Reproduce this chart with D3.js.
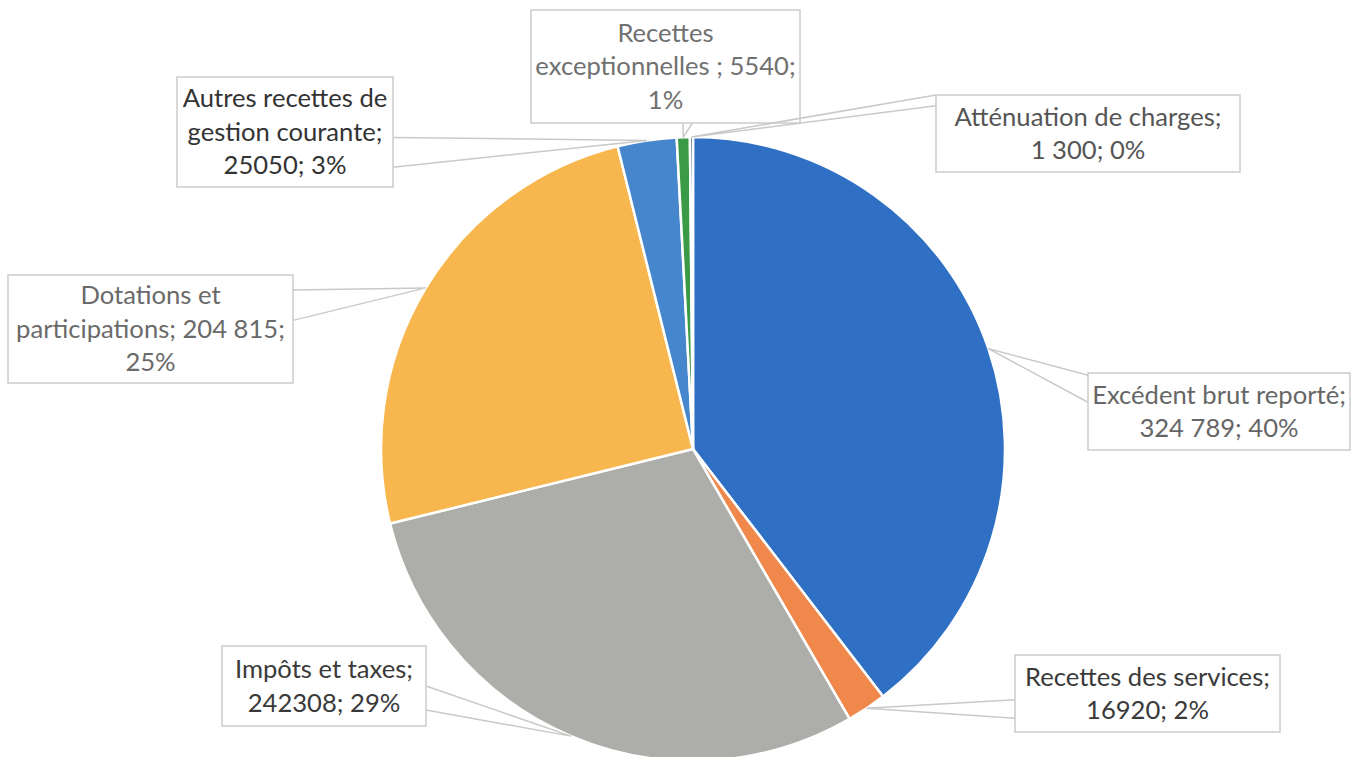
<!DOCTYPE html>
<html>
<head>
<meta charset="utf-8">
<script src="https://cdn.jsdelivr.net/npm/d3@7"></script>
<style>
  html, body { margin: 0; padding: 0; background: #ffffff; }
  svg { display: block; }
</style>
</head>
<body>
<svg id="chart" width="1357" height="757"></svg>
<script>
// ---------- data ----------
const categories = [
  "Excédent brut reporté",
  "Recettes des services",
  "Impôts et taxes",
  "Dotations et participations",
  "Autres recettes de gestion courante",
  "Recettes exceptionnelles",
  "Atténuation de charges"
];
const values = [324789, 16920, 242308, 204815, 25050, 5540, 1300];
const labelLines = [
  ["Excédent brut reporté;", "324 789; 40%"],
  ["Recettes des services;", "16920; 2%"],
  ["Impôts et taxes;", "242308; 29%"],
  ["Dotations et", "participations; 204 815;", "25%"],
  ["Autres recettes de", "gestion courante;", "25050; 3%"],
  ["Recettes", "exceptionnelles ; 5540;", "1%"],
  ["Atténuation de charges;", "1 300; 0%"]
];
const colors = ["#2F6FC4", "#F0884C", "#ADADAA", "#F8B74E", "#4586CD", "#3A9A45", "#23447A"];

// ---------- layout ----------
const W = 1357, H = 757;
const cx = 693, cy = 449, R = 312;
// label boxes [x0, y0, x1, y1], pointer side and fractions along that side
const boxes = [
  [1088, 373, 1350, 450],
  [1015, 655, 1280, 732],
  [222, 646, 426, 726],
  [8, 275, 293, 383],
  [177, 77, 393, 187],
  [531, 10, 800, 123],
  [936, 95, 1240, 172]
];
const pointerSide = ["left", "left", "right", "right", "right", "bottom", "left"];
const pointerFrac = [[0.03, 0.38], [0.58, 0.82], [0.5, 0.8], [0.14, 0.42], [0.55, 0.82], [0.565, 0.6], [0.0, 0.14]];
const textColors = ["#666666", "#3a3a3a", "#3a3a3a", "#6a6a6a", "#333333", "#707070", "#555555"];
const lineH = 33.5;

const svg = d3.select("#chart");
svg.append("rect").attr("width", W).attr("height", H).attr("fill", "#ffffff");

const data = categories.map((c, i) => ({ cat: c, value: values[i], i }));
const pie = d3.pie().sort(null).value(d => d.value).startAngle(0).endAngle(2 * Math.PI);
const arcs = pie(data);
const arc = d3.arc().innerRadius(0).outerRadius(R);

const g = svg.append("g").attr("transform", `translate(${cx},${cy})`);
g.selectAll("path.slice")
  .data(arcs)
  .join("path")
  .attr("class", "slice")
  .attr("d", arc)
  .attr("fill", d => colors[d.data.i])
  .attr("stroke", "#ffffff")
  .attr("stroke-width", 2.5)
  .attr("stroke-linejoin", "round");

// font calibration: match Calibri-like width
const probe = svg.append("text").attr("font-family", "Lato, 'Open Sans', sans-serif").attr("font-size", 100).text("Recettes des services;");
const probeW = probe.node().getComputedTextLength();
probe.remove();
const fontSize = Math.min(30, 245 / probeW * 100);

// ---------- callouts ----------
const lab = svg.append("g");
arcs.forEach((a, i) => {
  const mid = (a.startAngle + a.endAngle) / 2;
  const ax = cx + R * Math.sin(mid);
  const ay = cy - R * Math.cos(mid);
  const [x0, y0, x1, y1] = boxes[i];
  const [f1, f2] = pointerFrac[i];
  let p1, p2;
  if (pointerSide[i] === "left") { p1 = [x0, y0 + f1 * (y1 - y0)]; p2 = [x0, y0 + f2 * (y1 - y0)]; }
  else if (pointerSide[i] === "right") { p1 = [x1, y0 + f1 * (y1 - y0)]; p2 = [x1, y0 + f2 * (y1 - y0)]; }
  else if (pointerSide[i] === "bottom") { p1 = [x0 + f1 * (x1 - x0), y1]; p2 = [x0 + f2 * (x1 - x0), y1]; }
  else { p1 = [x0 + f1 * (x1 - x0), y0]; p2 = [x0 + f2 * (x1 - x0), y0]; }

  const cg = lab.append("g");
  cg.append("path")
    .attr("d", `M${p1[0]},${p1[1]}L${ax},${ay}L${p2[0]},${p2[1]}`)
    .attr("fill", "none")
    .attr("stroke", "#c9c9c9")
    .attr("stroke-width", 1.5);
  cg.append("rect")
    .attr("x", x0).attr("y", y0)
    .attr("width", x1 - x0).attr("height", y1 - y0)
    .attr("fill", "#ffffff")
    .attr("stroke", "#cccccc")
    .attr("stroke-width", 1.5);
  const lines = labelLines[i];
  const mx = (x0 + x1) / 2, my = (y0 + y1) / 2;
  lines.forEach((t, k) => {
    cg.append("text")
      .attr("x", mx)
      .attr("y", my + (k - (lines.length - 1) / 2) * lineH)
      .attr("dy", "0.35em")
      .attr("text-anchor", "middle")
      .attr("font-family", "Lato, 'Open Sans', sans-serif")
      .attr("font-size", fontSize)
      .attr("fill", textColors[i])
      .text(t);
  });
});
</script>
</body>
</html>
